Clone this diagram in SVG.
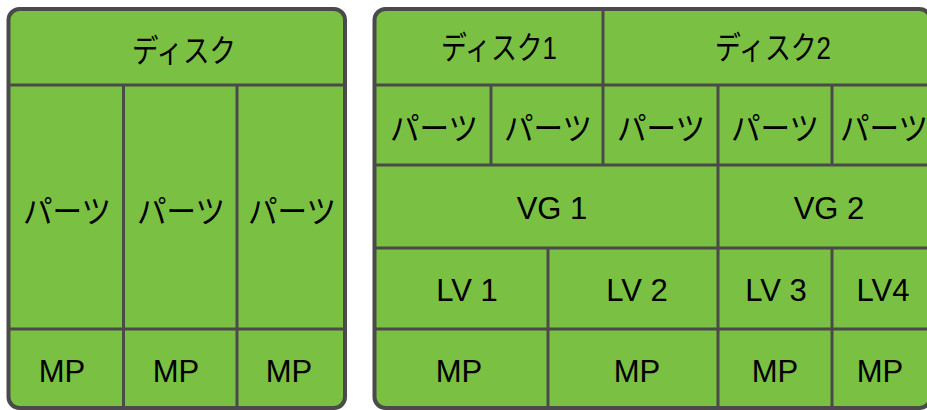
<svg xmlns="http://www.w3.org/2000/svg" width="927" height="410" viewBox="0 0 927 410">
  <style>
    .panel { fill: #7ac143; stroke: #4a4a4a; stroke-width: 4; }
    .grid line { stroke: #4a4a4a; stroke-width: 3; }
    text { fill: #000; text-anchor: middle; font-family: "Liberation Sans", "Noto Sans CJK JP", sans-serif; }
    .jp { font-size: 32px; dominant-baseline: central; font-family: "Noto Sans CJK JP", sans-serif; }
    .jpd { font-size: 32px; dominant-baseline: central; }
    .lat { font-size: 31px; }
  </style>
  <rect width="927" height="410" fill="#ffffff"/>

  <g id="panel-left">
    <rect class="panel" x="8.5" y="9" width="336.5" height="399" rx="11" ry="11"/>
  </g>
  <g id="panel-right">
    <rect class="panel" x="374.5" y="9" width="556" height="399" rx="11" ry="11"/>
  </g>

  <g id="grid" class="grid">
    <!-- left panel -->
    <line x1="8.5" y1="85" x2="345" y2="85"/>
    <line x1="8.5" y1="329" x2="345" y2="329"/>
    <line x1="123.5" y1="85" x2="123.5" y2="408"/>
    <line x1="237" y1="85" x2="237" y2="408"/>
    <!-- right panel -->
    <line x1="374.5" y1="85" x2="930" y2="85"/>
    <line x1="374.5" y1="165" x2="930" y2="165"/>
    <line x1="374.5" y1="248" x2="930" y2="248"/>
    <line x1="374.5" y1="329" x2="930" y2="329"/>
    <line x1="603" y1="9" x2="603" y2="165"/>
    <line x1="491" y1="85" x2="491" y2="165"/>
    <line x1="718" y1="85" x2="718" y2="408"/>
    <line x1="832" y1="85" x2="832" y2="165"/>
    <line x1="548" y1="248" x2="548" y2="408"/>
    <line x1="832" y1="248" x2="832" y2="408"/>
  </g>

  <!-- left panel nodes -->
  <g id="l-disk"><text class="jp" x="184" y="48" textLength="104" lengthAdjust="spacingAndGlyphs">ディスク</text></g>
  <g id="l-part1"><text class="jp" x="67" y="209" textLength="88" lengthAdjust="spacingAndGlyphs">パーツ</text></g>
  <g id="l-part2"><text class="jp" x="181" y="209" textLength="88" lengthAdjust="spacingAndGlyphs">パーツ</text></g>
  <g id="l-part3"><text class="jp" x="292" y="209" textLength="88" lengthAdjust="spacingAndGlyphs">パーツ</text></g>
  <g id="l-mp1"><text class="lat" x="62" y="382">MP</text></g>
  <g id="l-mp2"><text class="lat" x="176" y="382">MP</text></g>
  <g id="l-mp3"><text class="lat" x="289" y="382">MP</text></g>

  <!-- right panel nodes -->
  <g id="r-disk1"><text class="jpd" x="499" y="48" textLength="116" lengthAdjust="spacingAndGlyphs">ディスク1</text></g>
  <g id="r-disk2"><text class="jpd" x="773" y="48" textLength="116" lengthAdjust="spacingAndGlyphs">ディスク2</text></g>
  <g id="r-part1"><text class="jp" x="434" y="126" textLength="88" lengthAdjust="spacingAndGlyphs">パーツ</text></g>
  <g id="r-part2"><text class="jp" x="548" y="126" textLength="88" lengthAdjust="spacingAndGlyphs">パーツ</text></g>
  <g id="r-part3"><text class="jp" x="661" y="126" textLength="88" lengthAdjust="spacingAndGlyphs">パーツ</text></g>
  <g id="r-part4"><text class="jp" x="775" y="126" textLength="88" lengthAdjust="spacingAndGlyphs">パーツ</text></g>
  <g id="r-part5"><text class="jp" x="884" y="126" textLength="88" lengthAdjust="spacingAndGlyphs">パーツ</text></g>
  <g id="r-vg1"><text class="lat" x="552" y="219">VG 1</text></g>
  <g id="r-vg2"><text class="lat" x="829" y="219">VG 2</text></g>
  <g id="r-lv1"><text class="lat" x="467" y="301">LV 1</text></g>
  <g id="r-lv2"><text class="lat" x="637" y="301">LV 2</text></g>
  <g id="r-lv3"><text class="lat" x="776" y="301">LV 3</text></g>
  <g id="r-lv4"><text class="lat" x="883" y="301">LV4</text></g>
  <g id="r-mp1"><text class="lat" x="459" y="382">MP</text></g>
  <g id="r-mp2"><text class="lat" x="637" y="382">MP</text></g>
  <g id="r-mp3"><text class="lat" x="775" y="382">MP</text></g>
  <g id="r-mp4"><text class="lat" x="880" y="382">MP</text></g>
</svg>
